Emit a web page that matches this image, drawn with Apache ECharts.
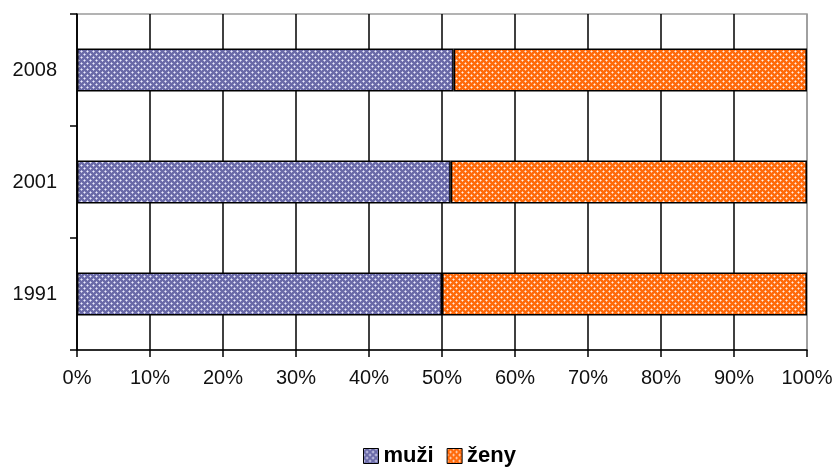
<!DOCTYPE html>
<html>
<head>
<meta charset="utf-8">
<script src="https://cdn.jsdelivr.net/npm/echarts@6/dist/echarts.min.js"></script>
<style>
html,body{margin:0;padding:0;background:#fff;}
#chart{width:836px;height:468px;}
</style>
</head>
<body>
<div id="chart"></div>
<script>
const categories = ['1991', '2001', '2008'];
const muziValues = [50.0, 51.2, 51.6];
const zenyValues = [50.0, 48.8, 48.4];
const seriesNames = ['muži', 'ženy'];

function makePattern(base, light, white) {
  const c = document.createElement('canvas');
  c.width = 6; c.height = 6;
  const g = c.getContext('2d');
  g.fillStyle = base; g.fillRect(0, 0, 6, 6);
  g.fillStyle = light;
  [[1,0],[5,0],[0,1],[0,5],[2,3],[4,3],[3,2],[3,4]].forEach(p => g.fillRect(p[0], p[1], 1, 1));
  g.fillStyle = white;
  [[0,0],[3,3]].forEach(p => g.fillRect(p[0], p[1], 1, 1));
  return c;
}
const muziPat = makePattern('#6a6aa8', '#b4b4dc', '#ececfa');
const zenyPat = makePattern('#ff6a0a', '#ffb080', '#fff0e4');

const font = 'Liberation Sans, Arial, sans-serif';
const splitColors = [];
for (let i = 0; i <= 10; i++) splitColors.push(i === 10 ? '#9a9a9a' : '#000');

const chart = echarts.init(document.getElementById('chart'), null, {renderer: 'canvas'});
chart.setOption({
  animation: false,
  backgroundColor: '#fff',
  grid: {left: 77, right: 29, top: 14, bottom: 118, show: true, borderColor: '#9a9a9a', borderWidth: 1.5, backgroundColor: 'transparent'},
  legend: {
    data: seriesNames,
    left: 358, top: 440,
    itemWidth: 15, itemHeight: 15, itemGap: 13,
    icon: 'rect',
    itemStyle: {borderColor: '#000', borderWidth: 1},
    textStyle: {fontFamily: font, fontSize: 22, fontWeight: 'bold', color: '#000'}
  },
  xAxis: {
    type: 'value', min: 0, max: 100, interval: 10,
    axisLine: {show: true, lineStyle: {color: '#000', width: 1.5}},
    axisTick: {show: true, length: 7, lineStyle: {color: '#000', width: 1.5}},
    axisLabel: {formatter: '{value}%', fontFamily: font, fontSize: 20, color: '#111', margin: 18},
    splitLine: {show: true, lineStyle: {color: splitColors, width: 1.5}}
  },
  yAxis: {
    type: 'category', data: categories,
    axisLine: {show: true, lineStyle: {color: '#000', width: 1.5}},
    axisTick: {show: true, length: 7, lineStyle: {color: '#000', width: 1.5}},
    axisLabel: {fontFamily: font, fontSize: 20, color: '#111', margin: 20},
    splitLine: {show: false}
  },
  series: [
    {name: seriesNames[0], type: 'bar', stack: 'total', data: muziValues, barWidth: 43,
     itemStyle: {color: {image: muziPat, repeat: 'repeat'}, borderColor: '#000', borderWidth: 1.5}},
    {name: seriesNames[1], type: 'bar', stack: 'total', data: zenyValues, barWidth: 43,
     itemStyle: {color: {image: zenyPat, repeat: 'repeat'}, borderColor: '#000', borderWidth: 1.5}}
  ]
});
</script>
</body>
</html>
